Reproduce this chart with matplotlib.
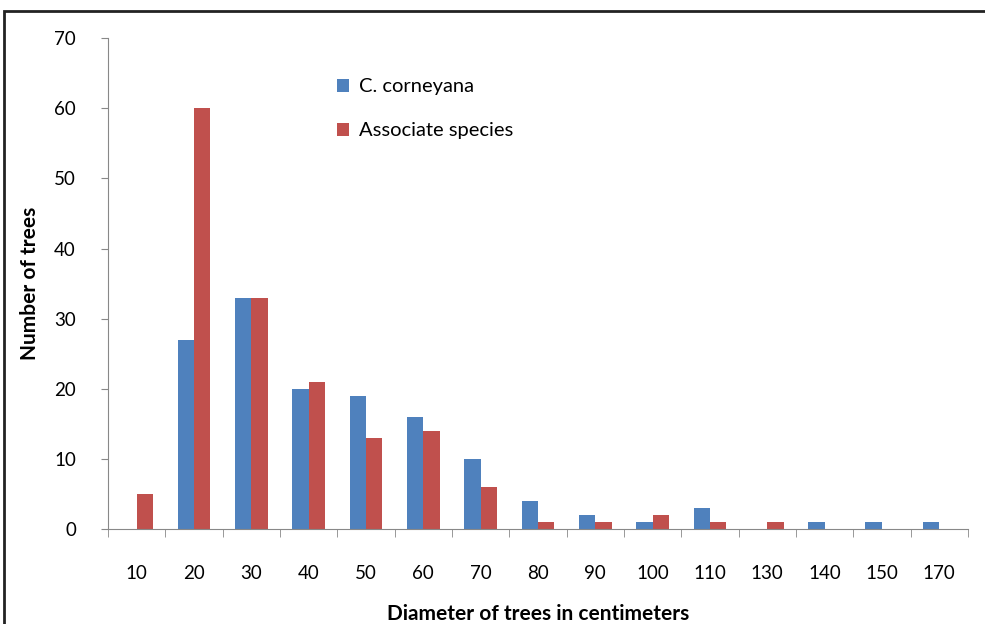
import numpy as np
import matplotlib.pyplot as plt
from matplotlib.patches import Rectangle

plt.rcParams['font.family'] = ['Lato', 'DejaVu Sans']

diameters = ['10', '20', '30', '40', '50', '60', '70', '80', '90', '100', '110', '130', '140', '150', '170']
corneyana = [0, 27, 33, 20, 19, 16, 10, 4, 2, 1, 3, 0, 1, 1, 1]
associate = [5, 60, 33, 21, 13, 14, 6, 1, 1, 2, 1, 1, 0, 0, 0]

fig = plt.figure(figsize=(9.85, 6.24), dpi=100)
ax = fig.add_axes([0.1096, 0.152, 0.873, 0.787])

x = np.arange(len(diameters))
w = 1 / 3.5
ax.bar(x - w / 2, corneyana, w, color='#4F81BD', label='C. corneyana')
ax.bar(x + w / 2, associate, w, color='#C0504D', label='Associate species')

ax.set_xlim(-0.5, len(diameters) - 0.5)
ax.set_ylim(0, 70)
ax.set_yticks(range(0, 71, 10))
ax.set_xticks(x)
ax.set_xticklabels(diameters)
ax.set_xticks(np.arange(-0.5, len(diameters), 1), minor=True)
ax.tick_params(axis='x', which='major', length=0, pad=26, labelsize=13.5)
ax.tick_params(axis='x', which='minor', length=6, color='#888888', direction='out')
ax.tick_params(axis='y', length=5, color='#888888', pad=18, labelsize=13.5)

for s in ['top', 'right']:
    ax.spines[s].set_visible(False)
for s in ['left', 'bottom']:
    ax.spines[s].set_color('#888888')

ax.set_xlabel('Diameter of trees in centimeters', fontsize=15, fontweight='bold', labelpad=16)
ax.set_ylabel('Number of trees', fontsize=15, fontweight='bold', labelpad=10)

ax.legend(loc='upper left', bbox_to_anchor=(0.245, 0.955), frameon=False, fontsize=14.5,
          handlelength=0.6, handleheight=0.6, handletextpad=0.5, labelspacing=1.35)

fig.patches.append(Rectangle((4 / 985, -0.05), 1.1, 1 - 11 / 624 + 0.05, transform=fig.transFigure,
                             fill=False, edgecolor='#222222', linewidth=2))

plt.savefig('out.png')
